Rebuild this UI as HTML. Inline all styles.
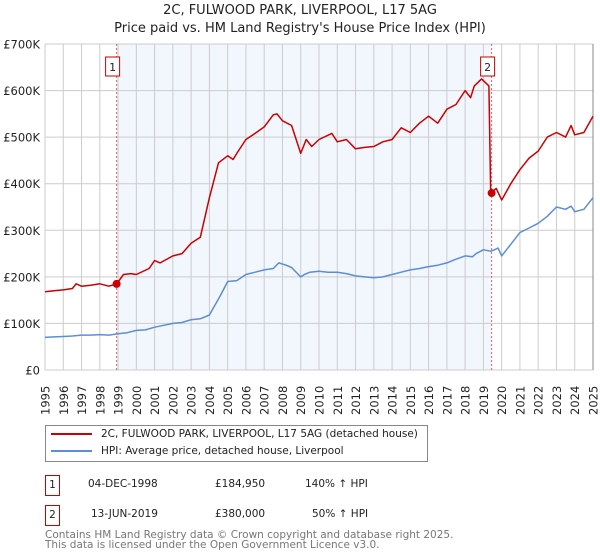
<!DOCTYPE html>
<html><head><meta charset="utf-8">
<style>
body{margin:0;background:#fff;font-family:"Liberation Sans","DejaVu Sans",sans-serif;}
#wrap{position:relative;width:600px;height:560px;overflow:hidden;}
svg text{font-family:"DejaVu Sans","Liberation Sans",sans-serif;}
</style></head>
<body>
<div id="wrap">
<svg id="chart" width="600" height="560">
<text x="300" y="14" text-anchor="middle" font-size="13" fill="#222">2C, FULWOOD PARK, LIVERPOOL, L17 5AG</text>
<text x="300" y="32" text-anchor="middle" font-size="13" fill="#222">Price paid vs. HM Land Registry's House Price Index (HPI)</text>
</svg>
</div>
<script>
const yearTicks=[1995,1996,1997,1998,1999,2000,2001,2002,2003,2004,2005,2006,2007,2008,2009,2010,2011,2012,2013,2014,2015,2016,2017,2018,2019,2020,2021,2022,2023,2024,2025];
const valueTicks=[0,100,200,300,400,500,600,700];
const valueTickLabels=["£0","£100K","£200K","£300K","£400K","£500K","£600K","£700K"];
const hpiDates=[1995,1995.5,1996,1996.5,1997,1997.5,1998,1998.5,1999,1999.5,2000,2000.5,2001,2001.5,2002,2002.5,2003,2003.5,2004,2004.6,2005,2005.5,2006,2006.5,2007,2007.5,2007.8,2008.2,2008.5,2009,2009.2,2009.5,2010,2010.5,2011,2011.5,2012,2012.5,2013,2013.5,2014,2014.5,2015,2015.5,2016,2016.5,2017,2017.5,2018,2018.4,2018.6,2019,2019.4,2019.6,2019.8,2020.0,2020.5,2021,2021.5,2022,2022.5,2023,2023.5,2023.8,2024,2024.5,2025];
const hpiValues=[70,71,72,73,75,75,76,75,78,80,85,86,92,96,100,102,108,110,118,160,190,192,205,210,215,218,230,225,220,200,205,210,212,210,210,207,202,200,198,200,205,210,215,218,222,225,230,238,245,243,250,258,255,258,262,245,270,295,305,315,330,350,345,352,340,345,370];
const priceDates=[1995,1995.5,1996,1996.5,1996.7,1997,1997.5,1998,1998.5,1998.92,1999.3,1999.7,2000,2000.7,2001,2001.3,2002,2002.5,2003,2003.5,2004,2004.5,2005,2005.3,2005.5,2006,2006.5,2007,2007.5,2007.7,2008,2008.5,2009,2009.3,2009.6,2010,2010.7,2011,2011.5,2012,2012.5,2013,2013.5,2014,2014.5,2015,2015.5,2016,2016.5,2017,2017.5,2018,2018.3,2018.5,2018.9,2019.3,2019.4,2019.7,2020,2020.5,2021,2021.5,2022,2022.5,2023,2023.5,2023.8,2024,2024.5,2025];
const priceValues=[168,170,172,175,185,180,182,185,180,184.95,205,207,205,218,235,230,245,250,272,285,370,445,460,452,465,495,508,522,548,550,535,525,465,495,480,495,508,490,495,475,478,480,490,495,520,510,530,545,530,560,570,600,585,610,625,610,380,390,365,400,430,455,470,500,510,500,525,505,510,545];
const saleDates=[1998.92,2019.45];
const saleValues=[184.95,380];
const saleLabels=["1","2"];

const NS="http://www.w3.org/2000/svg";
const svg=document.getElementById('chart');
const X0=45,X1=593,Y0=370,Y1=44;
const xs=d=>X0+(d-1995)/(2025-1995)*(X1-X0);
const ys=v=>Y0-v/700*(Y0-Y1);
function mk(tag,attrs,parent){const e=document.createElementNS(NS,tag);for(const k in attrs)e.setAttribute(k,attrs[k]);(parent||svg).appendChild(e);return e;}

const shade=mk('rect',{x:xs(saleDates[0]),y:Y1,width:xs(saleDates[1])-xs(saleDates[0]),height:Y0-Y1,fill:'#f2f6fd'});



yearTicks.forEach(y=>{
  const l=mk('line',{x1:xs(y),x2:xs(y),y1:Y1,y2:Y0,stroke:'#cccccc','stroke-width':1});
  
  
  const t=mk('text',{x:0,y:0,transform:`translate(${xs(y)+4.5},415) rotate(-90)`,'font-size':11.5,fill:'#222'});
  t.textContent=y;
  
  
});
valueTicks.forEach((v,i)=>{
  const l=mk('line',{x1:X0,x2:X1,y1:ys(v),y2:ys(v),stroke:'#cccccc','stroke-width':1});
  
  
  const t=mk('text',{x:40,y:ys(v)+4.5,'text-anchor':'end','font-size':11.5,fill:'#222'});
  t.textContent=valueTickLabels[i];
  
  
});
const rb=mk('line',{x1:X1,x2:X1,y1:Y1,y2:Y0,stroke:'#888','stroke-width':1});



saleDates.forEach((d,i)=>{
  const l=mk('line',{x1:xs(d),x2:xs(d),y1:Y1,y2:Y0,stroke:'#e06060','stroke-width':1,'stroke-dasharray':'2,2'});
  
  
});

function path(dates,vals,color,name){
  let d='';dates.forEach((t,i)=>{d+=(i?'L':'M')+xs(t).toFixed(1)+','+ys(vals[i]).toFixed(1);});
  const p=mk('path',{d:d,fill:'none',stroke:color,'stroke-width':1.5,'stroke-linejoin':'round'});
  
  
}
path(hpiDates,hpiValues,'#5b8ed6','hpi-line');
path(priceDates,priceValues,'#cc0000','property-price-line');

saleDates.forEach((d,i)=>{
  const c=mk('circle',{cx:xs(d),cy:ys(saleValues[i]),r:4,fill:'#cc0000'});
  
  
  const g=mk('g',{});
  
  
  mk('rect',{x:xs(d)-11,y:57,width:14,height:19,fill:'#fff',stroke:'#cc0000','stroke-width':1},g);
  const t=mk('text',{x:xs(d)-4,y:71,'text-anchor':'middle','font-size':11,fill:'#222'},g);
  t.textContent=saleLabels[i];
});
</script>
<div style="position:absolute;left:45px;top:425px;width:381px;height:35px;border:1px solid #888;background:#fff;font-family:'DejaVu Sans','Liberation Sans',sans-serif;font-size:10.5px;color:#222;">
  <div style="position:absolute;left:5px;top:2px;white-space:nowrap;"><span style="display:inline-block;width:41px;height:2px;background:#cc0000;vertical-align:middle;margin-right:9px;"></span>2C, FULWOOD PARK, LIVERPOOL, L17 5AG (detached house)</div>
  <div style="position:absolute;left:5px;top:19px;white-space:nowrap;"><span style="display:inline-block;width:41px;height:2px;background:#5b8ed6;vertical-align:middle;margin-right:9px;"></span>HPI: Average price, detached house, Liverpool</div>
</div>
<div style="position:absolute;left:45px;top:475px;font-family:'DejaVu Sans','Liberation Sans',sans-serif;font-size:10.5px;color:#222;">
  <div style="position:absolute;top:0;left:0;width:400px;height:20px;">
    <span style="position:absolute;left:0;top:0;width:13px;height:19px;border:1px solid #cc0000;text-align:center;line-height:18px;">1</span>
    <span style="position:absolute;left:43px;top:3px;">04-DEC-1998</span>
    <span style="position:absolute;left:170px;top:3px;">£184,950</span>
    <span style="position:absolute;left:260px;top:3px;">140% ↑ HPI</span>
  </div>
  <div style="position:absolute;top:30px;left:0;width:400px;height:20px;">
    <span style="position:absolute;left:0;top:0;width:13px;height:19px;border:1px solid #cc0000;text-align:center;line-height:18px;">2</span>
    <span style="position:absolute;left:46px;top:3px;">13-JUN-2019</span>
    <span style="position:absolute;left:170px;top:3px;">£380,000</span>
    <span style="position:absolute;left:267px;top:3px;">50% ↑ HPI</span>
  </div>
</div>
<div style="position:absolute;left:45px;top:530px;font-family:'DejaVu Sans','Liberation Sans',sans-serif;font-size:10.5px;line-height:10px;color:#777;">Contains HM Land Registry data © Crown copyright and database right 2025.<br>This data is licensed under the Open Government Licence v3.0.</div>
</body></html>
